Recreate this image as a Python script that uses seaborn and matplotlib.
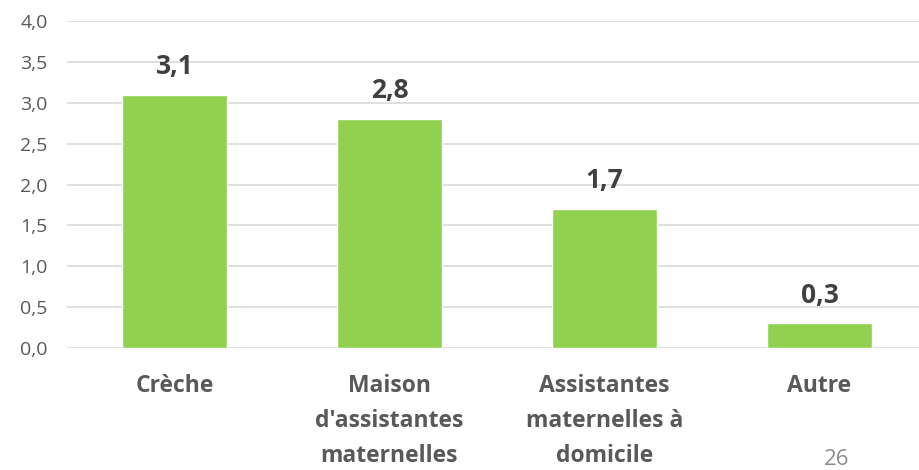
import matplotlib
matplotlib.use("Agg")
import matplotlib.pyplot as plt
import seaborn as sns
import pandas as pd

# chart data
categories = ["Crèche", "Maison\nd'assistantes\nmaternelles", "Assistantes\nmaternelles à\ndomicile", "Autre"]
values = [3.1, 2.8, 1.7, 0.3]
value_labels = ["3,1", "2,8", "1,7", "0,3"]
y_ticks = [0.0, 0.5, 1.0, 1.5, 2.0, 2.5, 3.0, 3.5, 4.0]
y_tick_labels = ["0,0", "0,5", "1,0", "1,5", "2,0", "2,5", "3,0", "3,5", "4,0"]
page_number = "26"

df = pd.DataFrame({"categorie": categories, "valeur": values})

sns.set_theme(style="white")
plt.rcParams["font.family"] = ["Open Sans", "DejaVu Sans"]

fig = plt.figure(figsize=(9.2, 4.7), dpi=100)
ax = fig.add_axes([67 / 920, 122 / 470, (920 - 67) / 920, 327 / 470])

sns.barplot(data=df, x="categorie", y="valeur", color="#92D050", saturation=1,
            width=0.49, ax=ax, zorder=3)

# gridlines
ax.set_ylim(0, 4)
ax.set_xlim(-0.5, 3.5 - 7 / 215)
ax.set_yticks(y_ticks)
ax.set_yticklabels(y_tick_labels, fontsize=14, color="#595959")
ax.yaxis.grid(True, color="#D9D9D9", linewidth=1.2, zorder=0)
ax.xaxis.grid(False)
for s in ax.spines.values():
    s.set_visible(False)
ax.tick_params(axis="y", length=0, pad=14)
ax.tick_params(axis="x", length=0, pad=19)
ax.set_xticks(range(len(categories)))
ax.set_xticklabels(categories, fontsize=16.5, fontweight="bold", color="#595959",
                   linespacing=1.6, va="top")
ax.set_xlabel("")
ax.set_ylabel("")

# value labels above bars
for i, (v, lab) in enumerate(zip(values, value_labels)):
    ax.annotate(lab, (i, v), xytext=(0, 15), textcoords="offset points",
                ha="center", va="baseline", fontsize=19, fontweight="bold", color="#404040")

fig.text(837 / 920, 0, page_number, fontsize=16, color="#8C8C8C", ha="center", va="bottom")

fig.savefig("out.png", dpi=100)
